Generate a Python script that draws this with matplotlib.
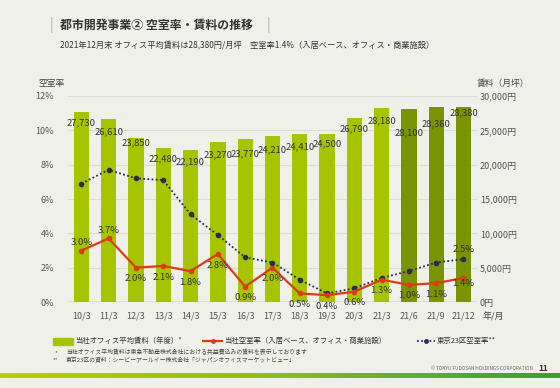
import matplotlib.pyplot as plt
import numpy as np
from matplotlib.colors import LinearSegmentedColormap

plt.rcParams['font.family'] = ['Noto Sans CJK JP', 'DejaVu Sans']

# data
periods = ['10/3', '11/3', '12/3', '13/3', '14/3', '15/3', '16/3', '17/3',
           '18/3', '19/3', '20/3', '21/3', '21/6', '21/9', '21/12']
rent = [27730, 26610, 23850, 22480, 22190, 23270, 23770, 24210,
        24410, 24500, 26790, 28180, 28100, 28360, 28380]
vacancy = [3.0, 3.7, 2.0, 2.1, 1.8, 2.8, 0.9, 2.0, 0.5, 0.4, 0.6, 1.3, 1.0, 1.1, 1.4]
tokyo23 = [6.9, 7.7, 7.2, 7.1, 5.1, 3.9, 2.6, 2.3, 1.3, 0.5, 0.8, 1.4, 1.8, 2.3, 2.5]
quarterly = [False] * 12 + [True] * 3

# label offsets below bar tops (points)
rent_label_dy = [-8, -9, -3, -8, -9, -9, -11, -10, -9, -7, -8, -9, -17, -12, -4]

bg = '#f0f0eb'
light_green = '#a6c400'
dark_green = '#7a9300'
red = '#dd3b12'
navy = '#2b2b4e'

fig = plt.figure(figsize=(5.6, 3.88), dpi=100, facecolor=bg)
ax = fig.add_axes([0.121, 0.2216, 0.731, 0.531], facecolor=bg)
ax2 = ax.twinx()
ax2.set_zorder(0)
ax.set_zorder(1)
ax.patch.set_visible(False)

x = np.arange(len(periods))
colors = [dark_green if q else light_green for q in quarterly]
ax2.bar(x, rent, width=0.56, color=colors, zorder=2)
ax2.set_ylim(0, 30000)
ax2.set_yticks(np.arange(0, 30001, 5000))
ax2.set_yticklabels([f'{v:,}円' for v in range(0, 30001, 5000)])
for xi, v, dy in zip(x, rent, rent_label_dy):
    ax2.annotate(f'{v:,}', (xi, v), xytext=(0, dy), textcoords='offset points',
                 ha='center', va='center', fontsize=6.8, color='#333333', zorder=3)

ax.plot(x, tokyo23, color=navy, lw=1.3, ls=(0, (1, 1.3)), marker='o', ms=3, zorder=4)
ax.plot(x, vacancy, color=red, lw=1.6, marker='o', ms=3, zorder=5)
ax.set_ylim(0, 12)
ax.set_xlim(-0.5, len(periods) - 0.5)
ax.set_yticks(np.arange(0, 13, 2))
ax.set_yticklabels([f'{v}%' for v in range(0, 13, 2)])
ax.set_xticks(x)
ax.set_xticklabels(periods)

for xi, v in enumerate(vacancy):
    dy = 6 if xi in (0, 1) else -8
    if xi == len(vacancy) - 1:
        dy = -4
    ax.annotate(f'{v:.1f}%', (xi, v), xytext=(0, dy), textcoords='offset points',
                ha='center', va='center', fontsize=6.8, color='#333333', zorder=6)
ax.annotate(f'{tokyo23[-1]:.1f}%', (x[-1], tokyo23[-1]), xytext=(0, 7),
            textcoords='offset points', ha='center', va='center',
            fontsize=6.8, color='#333333', zorder=6)

for a in (ax, ax2):
    for s in a.spines.values():
        s.set_visible(False)
    a.tick_params(length=0, labelsize=6.5, labelcolor='#555555')
ax.tick_params(axis='x', pad=7)
ax.tick_params(axis='y', pad=10)
ax2.tick_params(axis='y', pad=2)
ax2.grid(axis='y', color='#dcdcd6', lw=0.8, zorder=0)
ax2.set_axisbelow(True)
ax.axhline(0, color='#999999', lw=1, zorder=3)

fig.text(0.068, 0.786, '空室率', fontsize=6.3, color='#444444', va='center')
fig.text(0.852, 0.786, '賃料（月坪）', fontsize=6.3, color='#444444', va='center')
fig.text(0.861, 0.183, '年/月', fontsize=6.5, color='#444444', va='center')

# header
fig.text(0.089, 0.936, '|', fontsize=10, color='#aaaaaa', va='center')
fig.text(0.107, 0.936, '都市開発事業② 空室率・賃料の推移', fontsize=8.6,
         fontweight='bold', color='#333333', va='center')
fig.text(0.476, 0.936, '|', fontsize=10, color='#aaaaaa', va='center')
fig.text(0.107, 0.882, '2021年12月末 オフィス平均賃料は28,380円/月坪　空室率1.4%（入居ベース、オフィス・商業施設）',
         fontsize=5.95, color='#333333', va='center')

# legend
fig.patches.append(plt.Rectangle((0.095, 0.112), 0.035, 0.018, color=light_green,
                                 transform=fig.transFigure))
fig.text(0.134, 0.121, '当社オフィス平均賃料（年度）*', fontsize=5.3, color='#333333', va='center')
fig.add_artist(plt.Line2D([0.363, 0.397], [0.121, 0.121], color=red, lw=1.6,
                          transform=fig.transFigure))
fig.add_artist(plt.Line2D([0.380], [0.121], color=red, marker='o', ms=2.5,
                          transform=fig.transFigure))
fig.text(0.400, 0.121, '当社空室率（入居ベース、オフィス・商業施設）', fontsize=5.3,
         color='#333333', va='center')
fig.add_artist(plt.Line2D([0.745, 0.777], [0.121, 0.121], color=navy, lw=1.3,
                          ls=(0, (1, 1.3)), transform=fig.transFigure))
fig.add_artist(plt.Line2D([0.761], [0.121], color=navy, marker='o', ms=2.5,
                          transform=fig.transFigure))
fig.text(0.780, 0.121, '東京23区空室率**', fontsize=5.3, color='#333333', va='center')

# footnotes
fig.text(0.098, 0.092, '*', fontsize=4.2, color='#444444', va='center')
fig.text(0.118, 0.092, '当社オフィス平均賃料は東急不動産株式会社における共益費込みの賃料を表示しております',
         fontsize=4.2, color='#444444', va='center')
fig.text(0.094, 0.074, '**', fontsize=4.2, color='#444444', va='center')
fig.text(0.118, 0.074, '東京23区の資料：シービーアールイー株式会社「ジャパンオフィスマーケットビュー」',
         fontsize=4.2, color='#444444', va='center')
fig.text(0.952, 0.049, '© TOKYU FUDOSAN HOLDINGS CORPORATION', fontsize=3.4,
         color='#666666', va='center', ha='right')
fig.text(0.979, 0.049, '11', fontsize=6, color='#333333', va='center', ha='right',
         fontweight='bold')

# gradient strip
gax = fig.add_axes([0, 0.025, 1, 0.013])
grad = np.linspace(0, 1, 256).reshape(1, -1)
cmap = LinearSegmentedColormap.from_list('strip', ['#bcd000', '#8cbc18', '#3c9c3c'])
gax.imshow(grad, aspect='auto', cmap=cmap)
gax.axis('off')

fig.savefig('out.png', dpi=100, facecolor=bg)
